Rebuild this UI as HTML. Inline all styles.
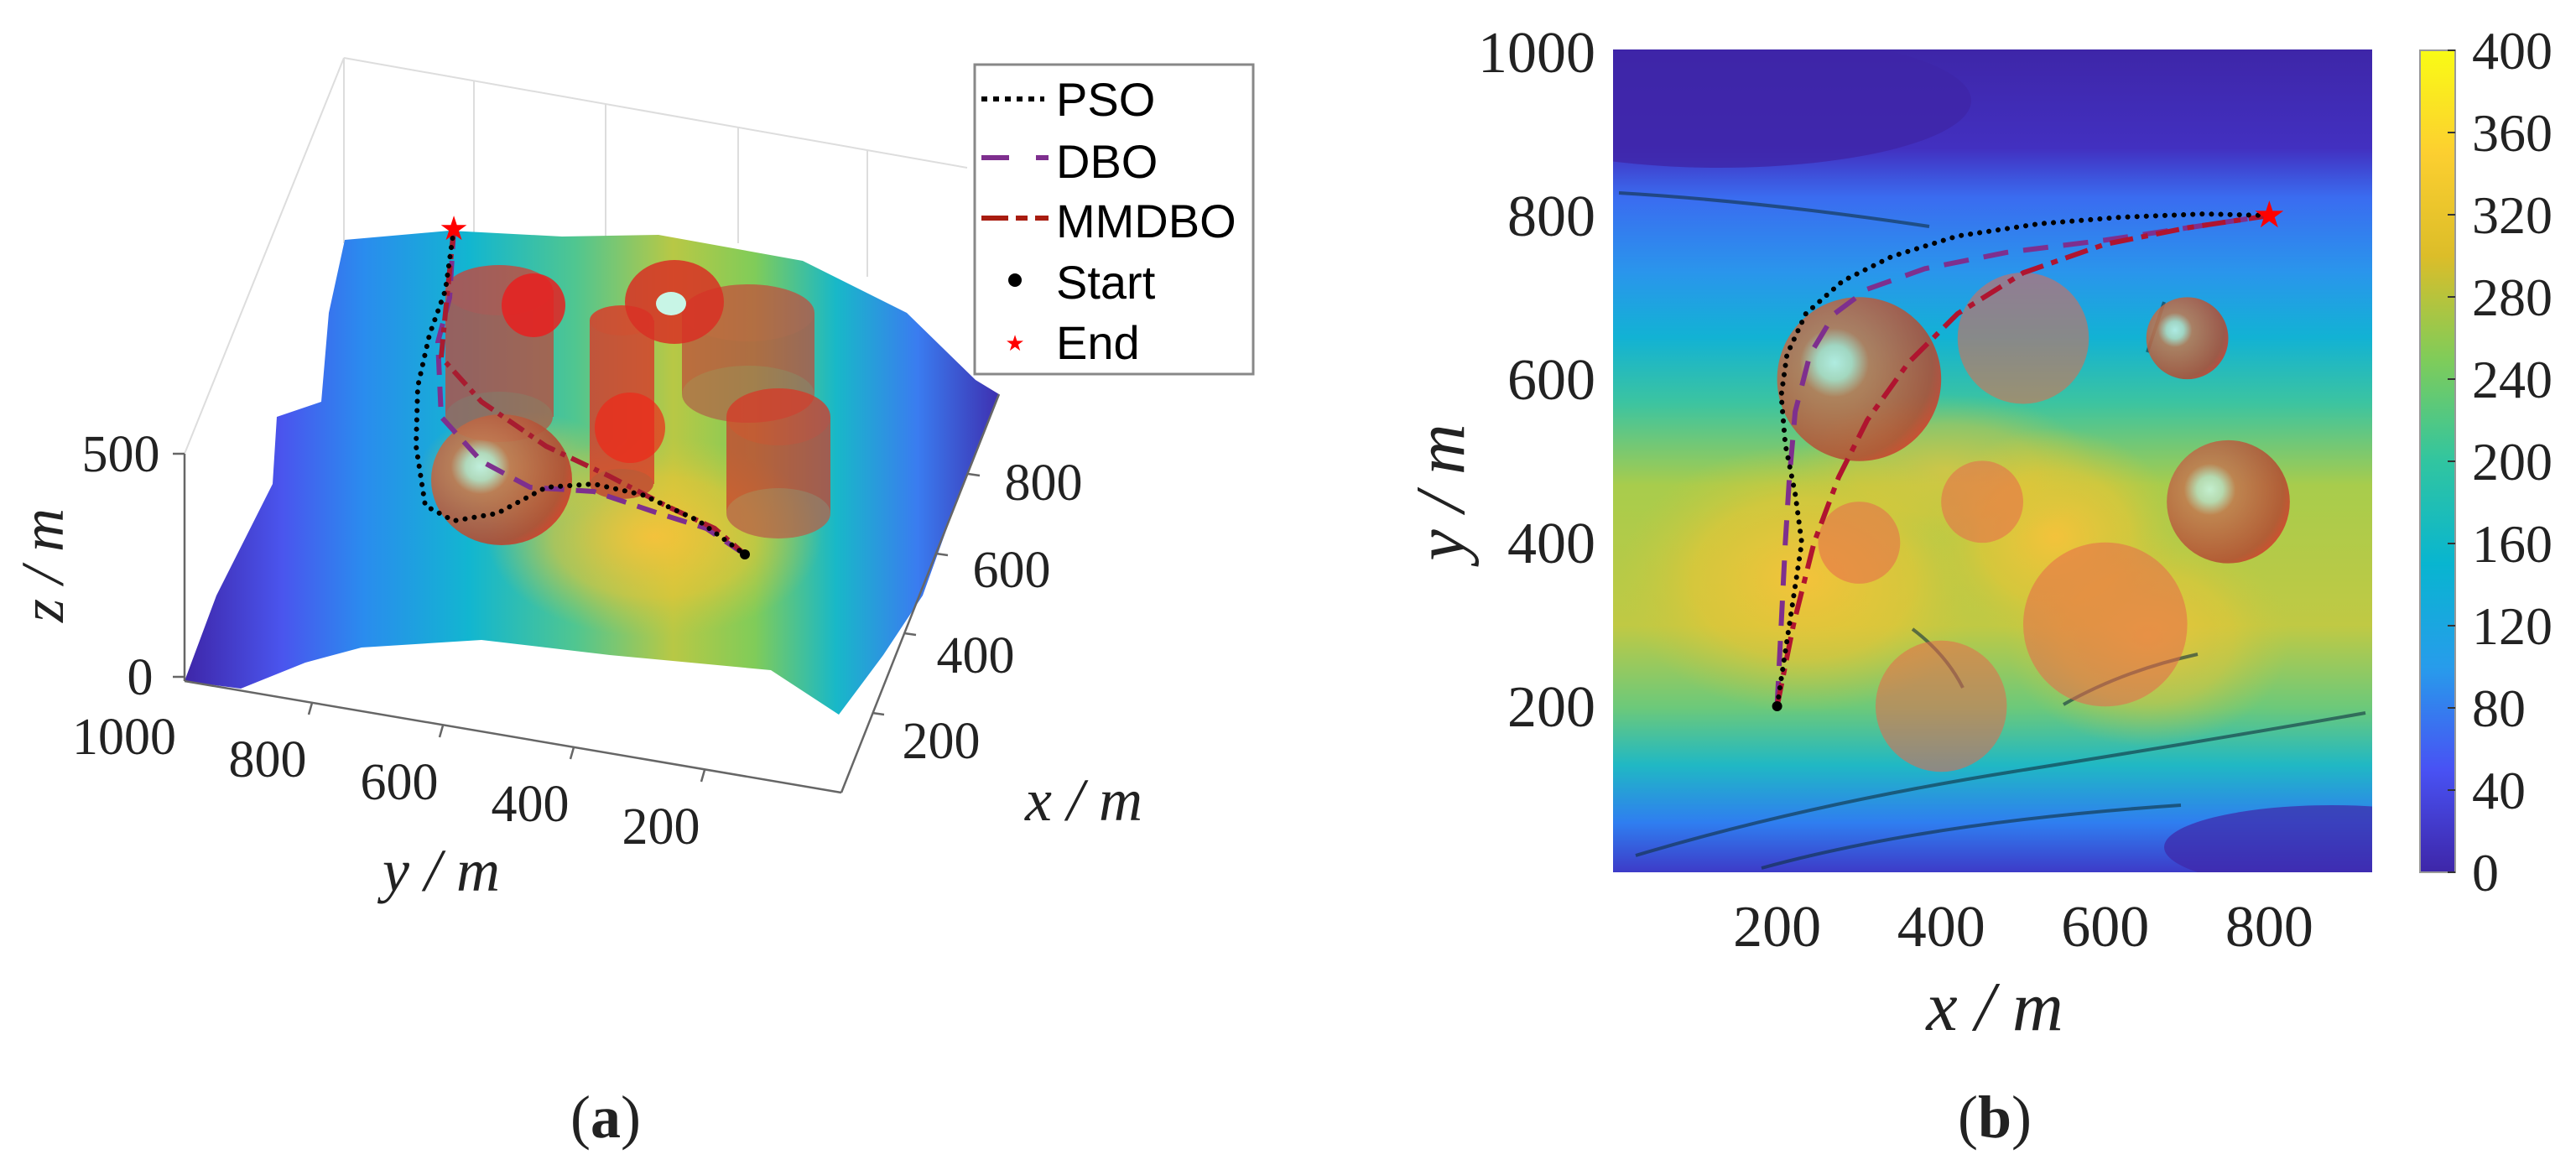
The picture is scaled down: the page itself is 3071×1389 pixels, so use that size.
<!DOCTYPE html>
<html><head><meta charset="utf-8"><style>
html,body{margin:0;padding:0;background:#fff}
svg{display:block}
.tm{font-family:"Liberation Serif",serif;fill:#222}
.ar{font-family:"Liberation Sans",sans-serif;fill:#000}
</style></head><body>
<svg id="fig" width="3071" height="1389" viewBox="0 0 3071 1389" xmlns="http://www.w3.org/2000/svg">
<defs>
<linearGradient id="parula" x1="0" y1="1" x2="0" y2="0">
<stop offset="0" stop-color="#3e26a8"/><stop offset="0.125" stop-color="#4852f4"/><stop offset="0.25" stop-color="#279ceb"/><stop offset="0.375" stop-color="#08b5d0"/><stop offset="0.5" stop-color="#31c5a0"/><stop offset="0.625" stop-color="#80cc59"/><stop offset="0.75" stop-color="#dcbd29"/><stop offset="0.875" stop-color="#fccf30"/><stop offset="1" stop-color="#f9fb15"/>
</linearGradient>
<linearGradient id="bgv" x1="0" y1="0" x2="0" y2="1">
<stop offset="0" stop-color="#3e26a8"/><stop offset="0.12" stop-color="#4230c0"/><stop offset="0.18" stop-color="#3a6cf0"/><stop offset="0.27" stop-color="#2a95ec"/><stop offset="0.35" stop-color="#12b2d4"/><stop offset="0.43" stop-color="#3cc4a0"/><stop offset="0.53" stop-color="#a8cc4c"/><stop offset="0.7" stop-color="#c0c944"/><stop offset="0.8" stop-color="#6cc97a"/><stop offset="0.87" stop-color="#20b8c4"/><stop offset="0.94" stop-color="#2f7ef0"/><stop offset="1" stop-color="#3d3bc8"/>
</linearGradient>
<radialGradient id="yb"><stop offset="0" stop-color="#f7c23a" stop-opacity="0.95"/><stop offset="0.6" stop-color="#e8c535" stop-opacity="0.6"/><stop offset="1" stop-color="#c8c840" stop-opacity="0"/></radialGradient>
<radialGradient id="sph" cx="0.35" cy="0.4" r="0.7"><stop offset="0" stop-color="#c8f5e6"/><stop offset="0.15" stop-color="#b8dcc0"/><stop offset="0.3" stop-color="#c27850"/><stop offset="0.85" stop-color="#b24a32"/><stop offset="1" stop-color="#d63a2a"/></radialGradient>
<linearGradient id="surf" x1="0" y1="0" x2="1" y2="0">
<stop offset="0" stop-color="#3e26a8"/><stop offset="0.12" stop-color="#4a55ee"/><stop offset="0.22" stop-color="#2a8cee"/><stop offset="0.35" stop-color="#12b6d0"/><stop offset="0.48" stop-color="#50c690"/><stop offset="0.6" stop-color="#b8c845"/><stop offset="0.7" stop-color="#80cc59"/><stop offset="0.8" stop-color="#18b8c8"/><stop offset="0.9" stop-color="#3a7cf0"/><stop offset="1" stop-color="#3e30b0"/>
</linearGradient>
<clipPath id="plotclip"><rect x="1923" y="59" width="905" height="981"/></clipPath>
</defs>

<!-- ============ Panel (a) ============ -->
<g id="panelA">
<g stroke="#ddd" stroke-width="2" fill="none">
<line x1="410" y1="69" x2="1153" y2="200"/>
<line x1="410" y1="69" x2="220" y2="541"/>
<line x1="565" y1="97" x2="565" y2="280"/>
<line x1="722" y1="124" x2="722" y2="282"/>
<line x1="880" y1="152" x2="880" y2="290"/>
<line x1="1034" y1="179" x2="1034" y2="330"/>
<line x1="410" y1="69" x2="410" y2="290"/>
</g>
<polygon fill="url(#surf)" points="411,286 536,275 670,282 785,280 957,311 1081,373 1163,453 1191,470 1148,577 1100,710 1053,781 1000,852 919,799 727,781 574,763 431,772 364,790 287,821 220,812 258,710 325,577 330,497 383,479 392,373"/>
<ellipse cx="780" cy="640" rx="200" ry="120" fill="url(#yb)"/>
<ellipse cx="620" cy="560" rx="120" ry="70" fill="url(#yb)" opacity="0.6"/>
<g stroke="#666" stroke-width="2.5" fill="none">
<line x1="220" y1="541" x2="220" y2="812"/>
<line x1="206" y1="541" x2="220" y2="541"/><line x1="206" y1="807" x2="220" y2="807"/>
<line x1="220" y1="812" x2="1003" y2="945"/>
<line x1="1003" y1="945" x2="1191" y2="470"/>
<line x1="372" y1="838" x2="368" y2="852"/><line x1="528" y1="865" x2="524" y2="879"/><line x1="684" y1="891" x2="680" y2="905"/><line x1="840" y1="918" x2="836" y2="932"/>
<line x1="1040" y1="850" x2="1054" y2="852"/><line x1="1078" y1="755" x2="1092" y2="757"/><line x1="1116" y1="660" x2="1130" y2="662"/><line x1="1154" y1="565" x2="1168" y2="567"/>
</g>
<g>
<g opacity="0.75"><rect x="531" y="346" width="129" height="151" fill="#c0483a"/><ellipse cx="595" cy="346" rx="64" ry="30" fill="#d04035"/><ellipse cx="595" cy="497" rx="64" ry="30" fill="#b05a45"/></g>
<circle cx="636" cy="364" r="38" fill="#e82020" opacity="0.85"/>
<g opacity="0.8"><rect x="703" y="382" width="77" height="195" fill="#d83a2a"/><ellipse cx="741" cy="382" rx="38" ry="18" fill="#e03525"/><ellipse cx="741" cy="577" rx="38" ry="18" fill="#c04030"/></g>
<circle cx="751" cy="510" r="42" fill="#ee2a1a" opacity="0.7"/>
<g opacity="0.7"><rect x="813" y="373" width="158" height="97" fill="#c0483a"/><ellipse cx="892" cy="373" rx="79" ry="34" fill="#c8483a"/><ellipse cx="892" cy="470" rx="79" ry="34" fill="#b06048"/></g>
<g><ellipse cx="804" cy="360" rx="59" ry="50" fill="#d83025" opacity="0.85"/><ellipse cx="800" cy="362" rx="18" ry="14" fill="#c8f5e6"/></g>
<g opacity="0.75"><rect x="866" y="497" width="124" height="115" fill="#c8402f"/><ellipse cx="928" cy="497" rx="62" ry="34" fill="#d83828"/><ellipse cx="928" cy="612" rx="62" ry="30" fill="#b86048"/></g>
<ellipse cx="598" cy="572" rx="84" ry="78" fill="url(#sph)" opacity="0.9"/>
</g>
<g id="paths3d"></g>
<g>
<rect x="1162" y="77" width="332" height="369" fill="#fff" stroke="#888" stroke-width="3"/>
<line x1="1170" y1="118" x2="1245" y2="118" stroke="#000" stroke-width="6" stroke-dasharray="7 7"/>
<text x="1259" y="138" class="ar" font-size="56">PSO</text>
<line x1="1170" y1="188" x2="1250" y2="188" stroke="#7e2f8e" stroke-width="6" stroke-dasharray="33 32"/>
<text x="1259" y="212" class="ar" font-size="56">DBO</text>
<line x1="1170" y1="260" x2="1250" y2="260" stroke="#a81c10" stroke-width="6" stroke-dasharray="32 9 14 9"/>
<text x="1259" y="283" class="ar" font-size="56">MMDBO</text>
<circle cx="1210" cy="334" r="8" fill="#000"/>
<text x="1259" y="356" class="ar" font-size="56">Start</text>
<text x="1210" y="418" class="ar" font-size="26" fill="#f00" text-anchor="middle" style="fill:#f00">★</text>
<text x="1259" y="428" class="ar" font-size="56">End</text>
</g>
<g class="tm" font-size="62">
<text x="144" y="562" text-anchor="middle">500</text>
<text x="167" y="828" text-anchor="middle">0</text>
<text x="148" y="899" text-anchor="middle">1000</text>
<text x="319" y="926" text-anchor="middle">800</text>
<text x="476" y="953" text-anchor="middle">600</text>
<text x="632" y="979" text-anchor="middle">400</text>
<text x="788" y="1006" text-anchor="middle">200</text>
<text x="1244" y="596" text-anchor="middle">800</text>
<text x="1206" y="700" text-anchor="middle">600</text>
<text x="1163" y="802" text-anchor="middle">400</text>
<text x="1122" y="904" text-anchor="middle">200</text>
</g>
<text x="526" y="1062" class="tm" font-size="72" font-style="italic" text-anchor="middle">y / m</text>
<text x="1292" y="978" class="tm" font-size="72" font-style="italic" text-anchor="middle">x / m</text>
<text transform="translate(75,674) rotate(-90)" class="tm" font-size="72" font-style="italic" text-anchor="middle">z / m</text>
<text x="722" y="1356" class="tm" font-size="72" text-anchor="middle">(<tspan font-weight="bold">a</tspan>)</text>
</g>

<!-- ============ Panel (b) ============ -->
<g id="panelB">
<g clip-path="url(#plotclip)">
<rect x="1923" y="59" width="905" height="981" fill="url(#bgv)"/>
<ellipse cx="2150" cy="690" rx="220" ry="160" fill="url(#yb)"/>
<ellipse cx="2450" cy="640" rx="150" ry="130" fill="url(#yb)"/>
<ellipse cx="2560" cy="760" rx="170" ry="130" fill="url(#yb)" opacity="0.8"/>
<ellipse cx="2320" cy="560" rx="180" ry="90" fill="url(#yb)" opacity="0.6"/>
<ellipse cx="2050" cy="120" rx="300" ry="80" fill="#3e26a8" opacity="0.8"/>
<ellipse cx="2780" cy="1010" rx="200" ry="50" fill="#3e26a8" opacity="0.7"/>
<g stroke="#103040" stroke-width="4" fill="none" opacity="0.6">
<path d="M1950 1020 Q2150 960 2400 920 T2820 850"/>
<path d="M2100 1035 Q2300 980 2600 960"/>
<path d="M1930 230 Q2100 240 2300 270"/>
<path d="M2460 840 Q2530 800 2620 780"/>
<path d="M2280 750 Q2320 780 2340 820"/>
<path d="M2580 360 L2560 420"/>
</g>
</g>
<g id="obst2d"></g>
<g id="paths2d"></g>
<g id="yticks" class="tm" font-size="70"></g>
<g id="xticks" class="tm" font-size="70"></g>
<text transform="translate(1745,587) rotate(-90)" class="tm" font-size="84" font-style="italic" text-anchor="middle">y / m</text>
<text x="2378" y="1228" class="tm" font-size="84" font-style="italic" text-anchor="middle">x / m</text>
<rect x="2885" y="60" width="42" height="980" fill="url(#parula)" stroke="#999" stroke-width="2"/>
<g id="cbticks" class="tm" font-size="64"></g>
<text x="2378" y="1356" class="tm" font-size="72" text-anchor="middle">(<tspan font-weight="bold">b</tspan>)</text>
</g>
</svg>
<script>
const NS='http://www.w3.org/2000/svg';
// ---- data ----
const xTicks=[200,400,600,800];
const yTicks=[200,400,600,800,1000];
const cbTicks=[0,40,80,120,160,200,240,280,320,360,400];
const obsX=[300,500,700,450,300,750,600,400];
const obsY=[600,650,650,450,400,450,300,200];
const obsR=[100,80,50,50,50,75,100,80];
const obsSphere=[1,0,1,0,0,1,0,0];
const psoX=[200,215,230,222,210,205,212,235,280,340,420,520,620,720,800];
const psoY=[200,300,400,460,520,580,630,680,720,750,775,790,798,802,800];
const dboX=[200,205,210,215,222,240,270,310,380,480,600,700,800];
const dboY=[200,300,400,480,560,630,680,710,735,755,770,785,800];
const mmX=[200,220,245,275,310,360,420,500,600,700,800];
const mmY=[200,300,400,480,550,620,680,730,765,785,800];
// 3D view: path points already projected into the oblique view
const pso3dSX=[541,531,512,498,496,507,541,593,651,708,766,833,888];
const pso3dSY=[273,346,399,461,532,603,621,612,581,577,590,621,661];
const dbo3dSX=[541,536,522,526,574,632,708,785,842,888];
const dbo3dSY=[273,355,408,497,550,581,586,612,630,661];
const mm3dSX=[541,531,526,574,651,727,794,852,888];
const mm3dSY=[273,373,426,479,532,568,603,630,661];
// ---- scales ----
const X=v=>1923+v*0.978, Y=v=>1037-v*0.975, R=v=>v*0.978;
const CB=v=>1040-v*(980/400);
function mk(tag,parent){const e=document.createElementNS(NS,tag);parent.appendChild(e);return e;}
const yt=document.getElementById('yticks');
yTicks.forEach(v=>{const t=mk('text',yt);t.setAttribute('x',1902);t.setAttribute('y',Y(v)+24);t.setAttribute('text-anchor','end');t.textContent=v;

});
const xt=document.getElementById('xticks');
xTicks.forEach(v=>{const t=mk('text',xt);t.setAttribute('x',X(v));t.setAttribute('y',1128);t.setAttribute('text-anchor','middle');t.textContent=v;

});
const cb=document.getElementById('cbticks');
cbTicks.forEach(v=>{const t=mk('text',cb);t.setAttribute('x',2947);t.setAttribute('y',CB(v)+22);t.textContent=v;


const l=mk('line',cb);l.setAttribute('x1',2918);l.setAttribute('x2',2927);l.setAttribute('y1',CB(v));l.setAttribute('y2',CB(v));l.setAttribute('stroke','#333');l.setAttribute('stroke-width','2');

});
const og=document.getElementById('obst2d');
obsX.forEach((x,i)=>{const c=mk('circle',og);c.setAttribute('cx',X(x));c.setAttribute('cy',Y(obsY[i]));c.setAttribute('r',R(obsR[i]));
if(obsSphere[i]){c.setAttribute('fill','url(#sph)');c.setAttribute('opacity','0.85');}
else{c.setAttribute('fill','#e8684c');c.setAttribute('opacity','0.55');}

});
function poly(parent,xs,ys,fx,fy,stroke,dash,name){const p=mk('polyline',parent);
p.setAttribute('points',xs.map((x,i)=>fx(x)+','+fy(ys[i])).join(' '));
p.setAttribute('fill','none');p.setAttribute('stroke',stroke);p.setAttribute('stroke-width','6');p.setAttribute('stroke-dasharray',dash);
p.setAttribute('stroke-linecap',dash==='0.1 11'?'round':'butt');p.setAttribute('stroke-linejoin','round');

}
const pg=document.getElementById('paths2d');
poly(pg,dboX,dboY,X,Y,'#7e2f8e','30 18','dbo-path');
poly(pg,mmX,mmY,X,Y,'#b0142f','28 10 8 10','mmdbo-path');
poly(pg,psoX,psoY,X,Y,'#000','0.1 11','pso-path');
const s=mk('circle',pg);s.setAttribute('cx',X(psoX[0]));s.setAttribute('cy',Y(psoY[0]));s.setAttribute('r',6);s.setAttribute('fill','#000');


const e=mk('text',pg);e.setAttribute('x',X(psoX[psoX.length-1]));e.setAttribute('y',Y(psoY[psoY.length-1])+14);e.setAttribute('text-anchor','middle');e.setAttribute('font-size','44');e.setAttribute('fill','#f00');e.textContent='★';


const id=v=>v;
const p3=document.getElementById('paths3d');
poly(p3,dbo3dSX,dbo3dSY,id,id,'#7e2f8e','24 14','dbo-path-3d');
poly(p3,mm3dSX,mm3dSY,id,id,'#a81c30','22 8 6 8','mmdbo-path-3d');
poly(p3,pso3dSX,pso3dSY,id,id,'#000','0.1 11','pso-path-3d');
const s3=mk('circle',p3);s3.setAttribute('cx',888);s3.setAttribute('cy',661);s3.setAttribute('r',6);s3.setAttribute('fill','#000');


const e3=mk('text',p3);e3.setAttribute('x',541);e3.setAttribute('y',286);e3.setAttribute('text-anchor','middle');e3.setAttribute('font-size','40');e3.setAttribute('fill','#f00');e3.textContent='★';


</script>
</body></html>
